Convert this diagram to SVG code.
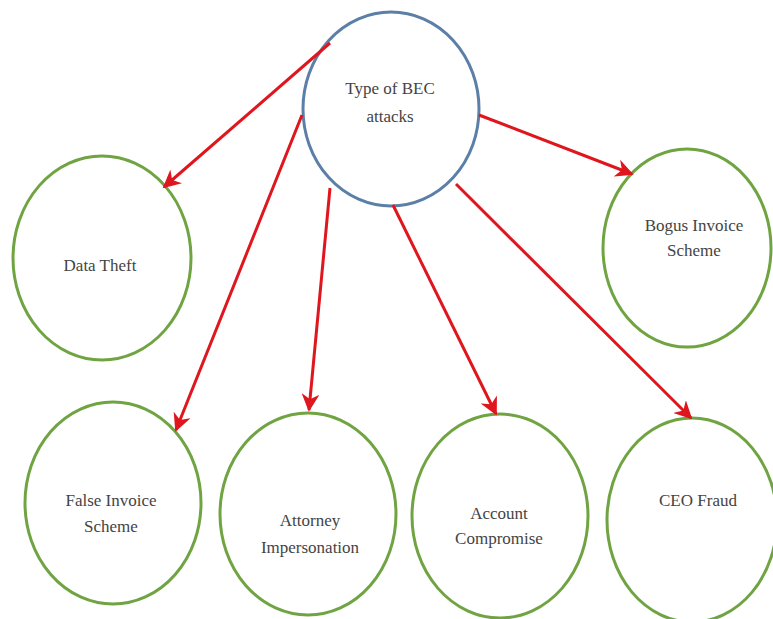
<svg xmlns="http://www.w3.org/2000/svg" width="773" height="619" viewBox="0 0 773 619">
<style>
.n{fill:#fff;stroke:#70a442;stroke-width:3}
.c{fill:#fff;stroke:#5b7fa6;stroke-width:3}
.t{font-family:"Liberation Serif","Times New Roman",serif;font-size:17px;fill:#444;text-anchor:middle}
.e{stroke:#e0161e;stroke-width:3;fill:none;marker-end:url(#a)}
</style>
<defs>
<marker id="a" viewBox="0 0 10 10" refX="9" refY="5" markerWidth="6" markerHeight="6" orient="auto" markerUnits="strokeWidth">
<path d="M0,0 L10,5 L0,10 L3,5 z" fill="#e0161e"/>
</marker>
</defs>
<rect width="773" height="619" fill="#fff"/>
<g id="n-bogus"><ellipse class="n" cx="687" cy="248" rx="84" ry="99"/><text class="t" x="694" y="231">Bogus Invoice</text><text class="t" x="694" y="256">Scheme</text></g>
<g id="n-data"><ellipse class="n" cx="102" cy="258" rx="89" ry="102"/><text class="t" x="100" y="271">Data Theft</text></g>
<g id="n-false"><ellipse class="n" cx="113" cy="503" rx="88" ry="101"/><text class="t" x="111" y="506">False Invoice</text><text class="t" x="111" y="532">Scheme</text></g>
<g id="n-attorney"><ellipse class="n" cx="308" cy="514" rx="88" ry="101"/><text class="t" x="310" y="526">Attorney</text><text class="t" x="310" y="553">Impersonation</text></g>
<g id="n-account"><ellipse class="n" cx="500" cy="516" rx="88" ry="102"/><text class="t" x="499" y="519">Account</text><text class="t" x="499" y="544">Compromise</text></g>
<g id="n-ceo"><ellipse class="n" cx="692" cy="520" rx="85" ry="102"/><text class="t" x="698" y="506">CEO Fraud</text></g>
<g id="n-center"><ellipse class="c" cx="391" cy="109" rx="88" ry="97"/><text class="t" x="390" y="94">Type of BEC</text><text class="t" x="390" y="122">attacks</text></g>
<g id="connectors">
<line class="e" x1="330" y1="43" x2="164" y2="187"/>
<line class="e" x1="302" y1="115" x2="176" y2="430"/>
<line class="e" x1="330" y1="188" x2="309" y2="410"/>
<line class="e" x1="393" y1="205" x2="496" y2="414"/>
<line class="e" x1="456" y1="184" x2="691" y2="418"/>
<line class="e" x1="479" y1="115" x2="632" y2="174"/>
</g>
</svg>
